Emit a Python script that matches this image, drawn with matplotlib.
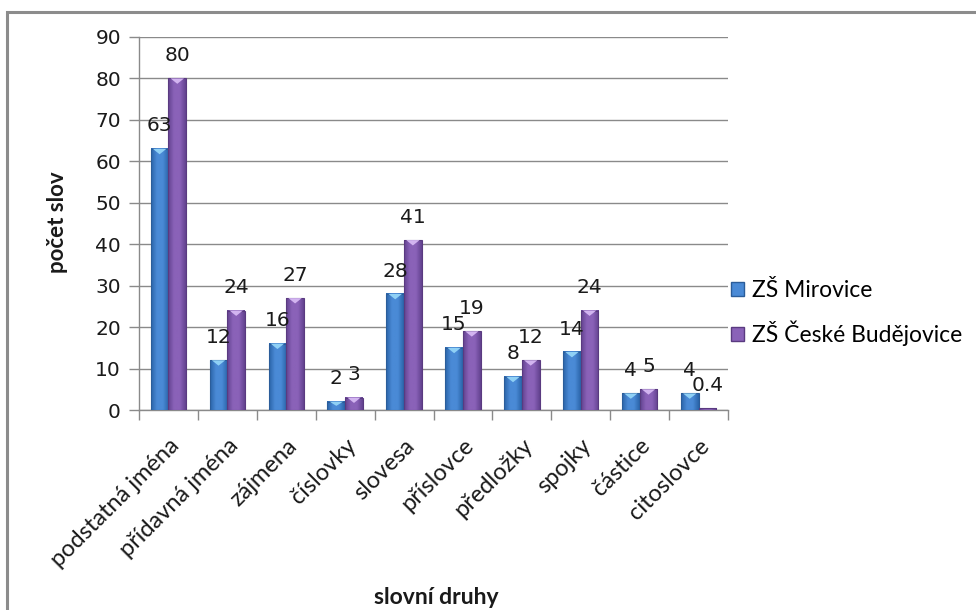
import numpy as np
import matplotlib
matplotlib.use("Agg")
import matplotlib.pyplot as plt
from matplotlib.patches import Patch, Polygon, Rectangle
from matplotlib.colors import LinearSegmentedColormap

categories = ["podstatná jména", "přídavná jména", "zájmena", "číslovky", "slovesa",
              "příslovce", "předložky", "spojky", "částice", "citoslovce"]
mirovice = [63, 12, 16, 2, 28, 15, 8, 14, 4, 4]
budejovice = [80, 24, 27, 3, 41, 19, 12, 24, 5, 0.4]
mirovice_labels = ["63", "12", "16", "2", "28", "15", "8", "14", "4", "4"]
budejovice_labels = ["80", "24", "27", "3", "41", "19", "12", "24", "5", "0.4"]
series_names = ["ZŠ Mirovice", "ZŠ České Budějovice"]
y_ticks = list(range(0, 100, 10))

label_font = "Lato"
num_font = "DejaVu Sans"

fig = plt.figure(figsize=(9.76, 6.10), dpi=100)
ax = fig.add_axes([139 / 976, 1 - 410 / 610, 589 / 976, 373 / 610])

# outer frame of the chart area
fig.patches.append(Rectangle((7 / 976, -0.05), 1.2, 1.05 - 12 / 610,
                             transform=fig.transFigure, fill=False,
                             edgecolor="#8c8c8c", linewidth=2.2, zorder=0))

styles = [
    dict(edge="#2b5d9a", mid="#4a8ad6", dark="#2a64a8", tip="#8fd0f5"),
    dict(edge="#5a3a80", mid="#8a62b8", dark="#63428f", tip="#d2b4f0"),
]

x = np.arange(len(categories))
bw = 0.3
offsets = [-bw / 2, bw / 2]


def gradient_bar(xc, h, st):
    x0, x1 = xc - bw / 2, xc + bw / 2
    cmap = LinearSegmentedColormap.from_list("g", [st["dark"], st["mid"], st["mid"], st["dark"]])
    grad = np.linspace(0, 1, 64).reshape(1, -1)
    ax.imshow(grad, cmap=cmap, extent=(x0, x1, 0, h), aspect="auto", zorder=3,
              interpolation="bilinear")
    ax.add_patch(Rectangle((x0, 0), bw, h, fill=False, edgecolor=st["edge"],
                           linewidth=0.8, zorder=4))
    depth = min(1.3, h * 0.5)
    if h > 1:
        ax.add_patch(Polygon([(x0 + bw * 0.12, h), (x1 - bw * 0.12, h), (xc, h - depth)],
                             closed=True, facecolor=st["tip"], edgecolor="none", zorder=5))


for vals, labs, off, st in zip([mirovice, budejovice], [mirovice_labels, budejovice_labels],
                               offsets, styles):
    for xi, v, lab in zip(x, vals, labs):
        gradient_bar(xi + off, v, st)
        ax.annotate(lab, (xi + off, v), xytext=(0, 16.5), textcoords="offset points",
                    ha="center", va="center", fontsize=14.5, family=num_font,
                    color="#1a1a1a", zorder=6)

ax.set_xlim(-0.5, len(categories) - 0.5)
ax.set_ylim(0, 90)
ax.set_yticks(y_ticks)
ax.set_yticklabels([str(t) for t in y_ticks], family=num_font, fontsize=14.5, color="#1a1a1a")
ax.yaxis.grid(True, color="#8a8a8a", linewidth=1.0, zorder=0)
ax.set_axisbelow(True)

ax.set_xticks(np.arange(-0.5, len(categories), 1.0))
ax.set_xticklabels([])
ax.set_xticks(x, minor=True)
ax.set_xticklabels(categories, minor=True, rotation=45, ha="right", va="top",
                   rotation_mode="anchor", family=label_font, fontsize=17, color="#1a1a1a")
ax.tick_params(axis="x", which="minor", length=0, pad=18)
ax.tick_params(axis="x", which="major", length=7, color="#8a8a8a", width=1)
ax.tick_params(axis="y", length=7, color="#8a8a8a", width=1, pad=6)

for s in ["top", "right"]:
    ax.spines[s].set_visible(False)
for s in ["left", "bottom"]:
    ax.spines[s].set_color("#8a8a8a")
    ax.spines[s].set_linewidth(1.0)

fig.text(58 / 976, 1 - 222 / 610, "počet slov", rotation=90, ha="center", va="center",
         family=label_font, fontweight="bold", fontsize=16, color="#1a1a1a")
fig.text(436 / 976, 1 - 597 / 610, "slovní druhy", ha="center", va="center",
         family=label_font, fontweight="bold", fontsize=16.5, color="#1a1a1a")

handles = [Patch(facecolor=st["mid"], edgecolor=st["edge"]) for st in styles]
ax.legend(handles, series_names, loc="center left", bbox_to_anchor=(0.99, 0.26),
          frameon=False, prop={"family": label_font, "size": 16.5},
          handlelength=0.55, handleheight=0.55, handletextpad=0.35, labelspacing=0.85,
          borderaxespad=0.0)

fig.savefig("out.png", dpi=100)
